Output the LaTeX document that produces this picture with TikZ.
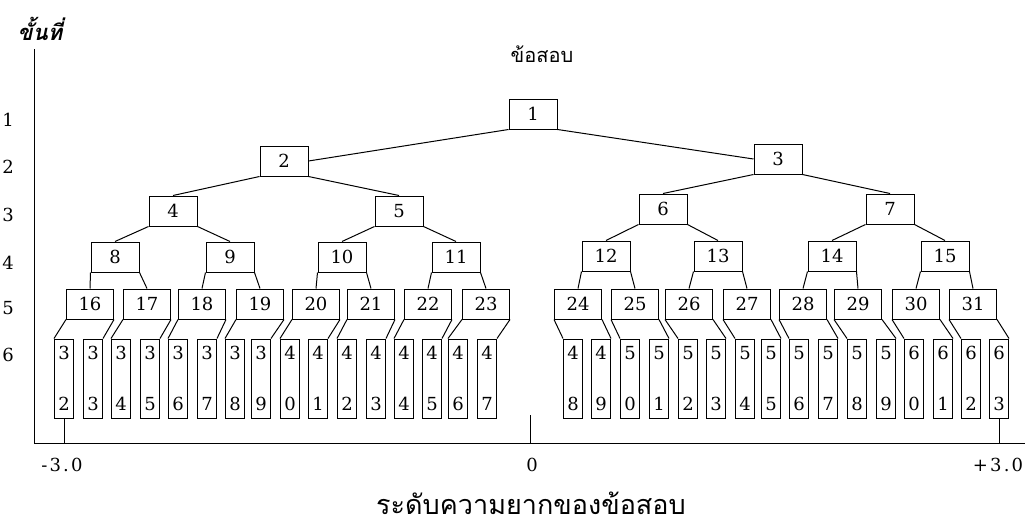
\documentclass[tikz,border=0pt]{standalone}
\usepackage{fontspec}
\setmainfont{DejaVu Serif}
\newfontfamily\axisfont{DejaVu Serif}[LetterSpace=12]
\newfontfamily\thaifont[Script=Thai]{Loma}

\begin{document}
\begin{tikzpicture}[x=1pt, y=-1pt, line width=1pt,
  font=\fontsize{18}{22}\selectfont,
  item/.style={draw, inner sep=0pt, minimum width=48pt, minimum height=30pt},
  leaf/.style={draw, inner sep=0pt, minimum width=19pt, minimum height=79pt, align=center}]

\useasboundingbox (0,0) rectangle (1031,530);

% Axes
\coordinate (top) at (34,49);
\coordinate (origin) at (34,443);
\coordinate (end) at (1025,443);
\draw (top) -- (origin) -- (end);

% Titles
\node (steps) at (40,29) {\thaifont\fontsize{22}{26}\selectfont\bfseries\itshape ขั้นที่};
\node (items) at (542,54) {\thaifont\fontsize{20}{24}\selectfont ข้อสอบ};
\node (scale) at (531,503) {\thaifont\fontsize{27}{31}\selectfont ระดับความยากของข้อสอบ};

% Level numbers
\foreach \l/\y in {1/120, 2/167, 3/215, 4/263, 5/308, 6/355}
  \node (lv\l) at (8,\y) {\l};

% Items, levels 1 to 4
\node[item] (n1) at (533,114) {1};
\node[item] (n2) at (284,161) {2};
\node[item] (n3) at (778,159) {3};
\node[item] (n4) at (173,211) {4};
\node[item] (n5) at (399,211) {5};
\node[item] (n6) at (663,209) {6};
\node[item] (n7) at (890,209) {7};
\node[item] (n8) at (115,257) {8};
\node[item] (n9) at (230,257) {9};
\node[item] (n10) at (342,257) {10};
\node[item] (n11) at (456,257) {11};
\node[item] (n12) at (606,256) {12};
\node[item] (n13) at (718,256) {13};
\node[item] (n14) at (832,256) {14};
\node[item] (n15) at (945,256) {15};

% Items, level 5
\foreach \n/\x in {16/90, 17/147, 18/202, 19/260, 20/316, 21/371, 22/428, 23/486,
                   24/578, 25/635, 26/689, 27/747, 28/803, 29/858, 30/916, 31/973}
  \node[item, minimum width=47pt] (n\n) at (\x,304) {\n};

% Items, level 6
\foreach \n/\x in {32/64, 33/93, 34/121, 35/150, 36/178, 37/207, 38/235, 39/261,
                   40/290, 41/318, 42/347, 43/376, 44/404, 45/432, 46/458, 47/487,
                   48/573, 49/601, 50/630, 51/659, 52/688, 53/716, 54/745, 55/771,
                   56/799, 57/828, 58/857, 59/886, 60/914, 61/943, 62/971, 63/999} {
  \pgfmathtruncatemacro\tens{\n/10}
  \pgfmathtruncatemacro\units{\n-10*\tens}
  \node[leaf] (n\n) at (\x,378.5) {\tens\\[29pt]\units};
}

% Links
\draw (n1.south west) -- (n2.east);
\draw (n1.south east) -- (n3.west);
\foreach \k in {2,...,15} {
  \pgfmathtruncatemacro\a{2*\k}
  \pgfmathtruncatemacro\b{2*\k+1}
  \draw (n\k.south west) -- (n\a.north);
  \draw (n\k.south east) -- (n\b.north);
}
\foreach \k in {16,...,31} {
  \pgfmathtruncatemacro\a{2*\k}
  \pgfmathtruncatemacro\b{2*\k+1}
  \draw (n\k.south west) -- (n\a.north west);
  \draw (n\k.south east) -- (n\b.north east);
}

% Ticks
\coordinate (zero) at (530,443);
\coordinate (zerotop) at (530,415);
\draw (n32.south) -- (n32.south |- origin);
\draw (n63.south) -- (n63.south |- origin);
\draw (zerotop) -- (zero);

% Scale values
\node (low) at (62,465) {\axisfont -3.0};
\node (mid) at (532,465) {\axisfont 0};
\node (high) at (998,465) {\axisfont +3.0};

\end{tikzpicture}
\end{document}
